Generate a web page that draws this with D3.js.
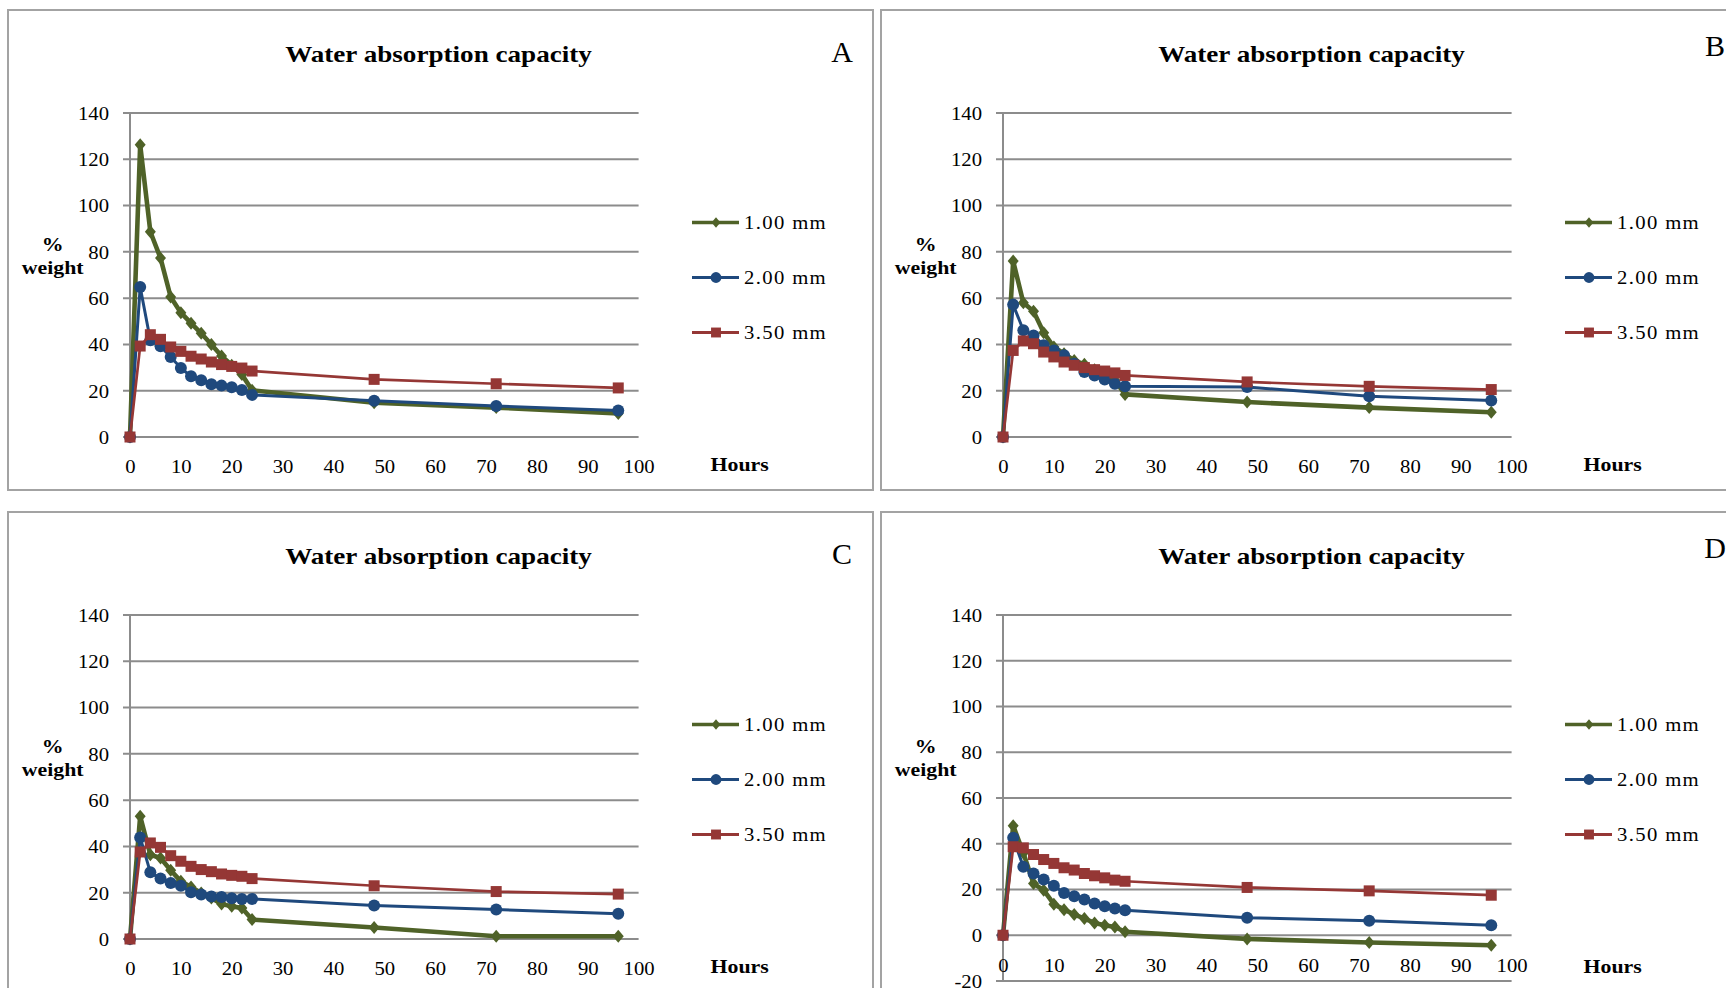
<!DOCTYPE html>
<html>
<head>
<meta charset="utf-8">
<script src="https://cdn.jsdelivr.net/npm/d3@7"></script>
<style>
  html, body { margin: 0; padding: 0; background: #ffffff; }
  svg { display: block; }
  text { font-family: "Liberation Serif", "Times New Roman", Times, serif; fill: #000; }
</style>
</head>
<body>
<svg id="chart" width="1726" height="988"></svg>
<script>
// Sampling times (hours)
const hours = [0, 2, 4, 6, 8, 10, 12, 14, 16, 18, 20, 22, 24, 48, 72, 96];

// Series names
const seriesNames = ["1.00 mm", "2.00 mm", "3.50 mm"];

// Panel A
const a100 = [0, 126.3, 88.7, 77.3, 60.5, 53.7, 49.2, 44.8, 40.0, 35.0, 31.0, 27.0, 20.2, 14.8, 12.7, 10.2];
const a200 = [0, 64.8, 41.8, 39.2, 34.6, 29.8, 26.2, 24.5, 22.8, 22.2, 21.5, 20.3, 18.2, 15.7, 13.4, 11.5];
const a350 = [0, 39.3, 44.2, 42.2, 38.9, 37.0, 34.9, 33.7, 32.4, 31.3, 30.5, 29.8, 28.5, 24.9, 23.0, 21.2];

// Panel B
const b100 = [0, 76.0, 58.0, 54.3, 45.1, 38.9, 36.0, 33.1, 31.4, 29.1, 27.4, 24.5, 18.4, 15.1, 12.7, 10.7];
const b200 = [0, 57.2, 46.1, 43.9, 39.6, 37.4, 35.3, 31.7, 28.1, 26.6, 24.8, 23.0, 21.9, 21.6, 17.6, 15.8];
const b350 = [0, 37.4, 41.5, 40.3, 36.7, 34.6, 32.4, 31.0, 30.0, 29.1, 28.5, 27.7, 26.6, 23.8, 21.9, 20.5];

// Panel C
const c100 = [0, 53.0, 36.4, 35.0, 29.7, 24.9, 22.5, 19.9, 17.7, 15.1, 14.1, 13.4, 8.4, 5.0, 1.2, 1.2];
const c200 = [0, 43.9, 28.8, 26.1, 24.2, 23.0, 20.2, 19.2, 18.4, 18.1, 17.6, 17.3, 17.3, 14.5, 12.7, 10.9];
const c350 = [0, 37.6, 41.5, 39.6, 36.0, 33.6, 31.4, 30.0, 29.1, 28.1, 27.5, 27.1, 26.1, 23.0, 20.5, 19.4];

// Panel D
const d100 = [0, 47.9, 36.0, 22.6, 19.7, 13.6, 11.2, 9.1, 7.3, 5.4, 4.4, 3.6, 1.5, -1.6, -3.2, -4.4];
const d200 = [0, 42.6, 29.9, 27.0, 24.4, 21.6, 18.5, 17.1, 15.6, 13.9, 12.7, 11.7, 10.9, 7.7, 6.3, 4.4];
const d350 = [0, 38.7, 38.2, 35.3, 33.1, 31.4, 29.5, 28.5, 27.0, 26.0, 25.1, 24.1, 23.6, 20.9, 19.4, 17.5];

// Axis ticks
const xTicks = [0, 10, 20, 30, 40, 50, 60, 70, 80, 90, 100];
const yTicks = [0, 20, 40, 60, 80, 100, 120, 140];
const yTicksD = [-20, 0, 20, 40, 60, 80, 100, 120, 140];

const titleText = "Water absorption capacity";
const panelLetters = ["A", "B", "C", "D"];

// ---- styling ----
const colors = ["#4F6228", "#1F497D", "#953735"];
const lineWidths = [4.6, 3.0, 2.7];
const gridColor = "#8c8c8c";
const SX = 1.12; // horizontal stretch of the lettering

const panels = [
  { letter: panelLetters[0], ox: 8,   oy: 10,  series: [a100, a200, a350], yDomain: [0, 140], yTicks: yTicks,  yBottom: 427, letterY: 52 },
  { letter: panelLetters[1], ox: 881, oy: 10,  series: [b100, b200, b350], yDomain: [0, 140], yTicks: yTicks,  yBottom: 427, letterY: 46 },
  { letter: panelLetters[2], ox: 8,   oy: 512, series: [c100, c200, c350], yDomain: [0, 140], yTicks: yTicks,  yBottom: 427, letterY: 52 },
  { letter: panelLetters[3], ox: 881, oy: 512, series: [d100, d200, d350], yDomain: [-20, 140], yTicks: yTicksD, yBottom: 469, letterY: 46 }
];

const svg = d3.select("#chart");
svg.append("rect").attr("width", 1726).attr("height", 988).attr("fill", "#fff");

function addText(g, x, y, str, opt) {
  const o = Object.assign({ size: 18.5, weight: "normal", anchor: "middle", sx: SX, ls: 0 }, opt || {});
  return g.append("text")
    .attr("transform", `translate(${x},${y}) scale(${o.sx},1)`)
    .attr("text-anchor", o.anchor)
    .attr("font-size", o.size)
    .attr("font-weight", o.weight)
    .attr("letter-spacing", o.ls)
    .text(str);
}

// marker shapes
function markerPath(kind, s) {
  if (kind === 0) { // diamond
    const w = 5.5 * s, h = 6.5 * s;
    return `M0,${-h}L${w},0L0,${h}L${-w},0Z`;
  }
  if (kind === 1) { // circle
    const r = 6 * s;
    return `M${-r},0A${r},${r} 0 1,0 ${r},0A${r},${r} 0 1,0 ${-r},0Z`;
  }
  const h = 5.5 * s; // square
  return `M${-h},${-h}H${h}V${h}H${-h}Z`;
}

const plainNumber = d => String(d);

panels.forEach(p => {
  const g = svg.append("g").attr("transform", `translate(${p.ox},${p.oy})`);

  // frame
  g.append("rect")
    .attr("x", 0).attr("y", 0).attr("width", 865).attr("height", 480)
    .attr("fill", "none").attr("stroke", "#a3a3a3").attr("stroke-width", 2);

  const plotX = 122, plotW = 508.6, plotTop = 103;
  const x = d3.scaleLinear().domain([0, 100]).range([plotX, plotX + plotW]);
  const y = d3.scaleLinear().domain(p.yDomain).range([p.yBottom, plotTop]);

  // horizontal gridlines with short outward tick marks
  g.append("g").selectAll("line").data(p.yTicks).join("line")
    .attr("x1", plotX - 7).attr("x2", plotX + plotW)
    .attr("y1", d => y(d)).attr("y2", d => y(d))
    .attr("stroke", gridColor).attr("stroke-width", 2);

  // vertical axis line
  g.append("line")
    .attr("x1", plotX).attr("x2", plotX)
    .attr("y1", y(p.yDomain[0])).attr("y2", y(p.yDomain[1]))
    .attr("stroke", gridColor).attr("stroke-width", 2);

  // y axis labels
  const yAxis = d3.axisLeft(y).tickValues(p.yTicks).tickFormat(plainNumber).tickSize(0).tickPadding(0);
  const yg = g.append("g").attr("transform", `translate(${plotX},0)`).call(yAxis);
  yg.attr("font-family", null).attr("font-size", null);
  yg.select(".domain").remove();
  yg.selectAll("text")
    .attr("x", null).attr("dy", null)
    .attr("transform", `translate(-21,6.3) scale(${SX},1)`)
    .attr("font-size", 18.5).attr("fill", "#000");

  // x axis labels, hung below the zero line
  const xAxis = d3.axisBottom(x).tickValues(xTicks).tickFormat(plainNumber).tickSize(0).tickPadding(0);
  const xg = g.append("g").attr("transform", `translate(0,${y(0)})`).call(xAxis);
  xg.attr("font-family", null).attr("font-size", null);
  xg.select(".domain").remove();
  xg.selectAll("text")
    .attr("y", null).attr("dy", null)
    .attr("transform", `translate(0,36.3) scale(${SX},1)`)
    .attr("font-size", 18.5).attr("fill", "#000");

  // titles
  addText(g, 430.5, 52, titleText, { size: 24, weight: "bold", sx: 1.13 });
  addText(g, 834, p.letterY, p.letter, { size: 30, sx: 1 });
  addText(g, 44.7, 241, "%", { size: 19.5, weight: "bold" });
  addText(g, 44.7, 264, "weight", { size: 19.5, weight: "bold" });
  addText(g, 731.7, 461, "Hours", { size: 19.5, weight: "bold" });

  // series lines and markers
  const line = d3.line().x((d, i) => x(hours[i])).y(d => y(d));
  p.series.forEach((vals, k) => {
    const sg = g.append("g");
    sg.append("path")
      .attr("d", line(vals))
      .attr("fill", "none")
      .attr("stroke", colors[k])
      .attr("stroke-width", lineWidths[k])
      .attr("stroke-linejoin", "round");
    sg.selectAll("path.m").data(vals).join("path")
      .attr("class", "m")
      .attr("transform", (d, i) => `translate(${x(hours[i])},${y(d)})`)
      .attr("d", markerPath(k, 1))
      .attr("fill", colors[k]);
  });

  // legend
  seriesNames.forEach((name, k) => {
    const ly = 212.5 + k * 55;
    const lg = g.append("g");
    lg.append("line")
      .attr("x1", 684).attr("x2", 731).attr("y1", ly).attr("y2", ly)
      .attr("stroke", colors[k]).attr("stroke-width", k === 0 ? 3.4 : 2.8);
    lg.append("path")
      .attr("transform", `translate(708,${ly})`)
      .attr("d", markerPath(k, k === 0 ? 0.8 : 0.9))
      .attr("fill", colors[k]);
    addText(lg, 736, ly + 6.3, name, { size: 18.5, anchor: "start", ls: 1.2 });
  });
});
</script>
</body>
</html>
